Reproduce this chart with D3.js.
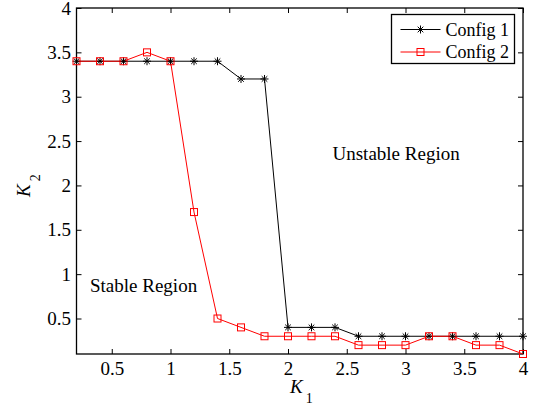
<!DOCTYPE html>
<html>
<head>
<meta charset="utf-8">
<script src="https://cdn.jsdelivr.net/npm/d3@7"></script>
<style>
  body { margin: 0; background: #fff; }
  svg text { font-family: "Liberation Serif", "Times New Roman", serif; }
</style>
</head>
<body>
<svg id="chart" width="533" height="408"></svg>
<script>
// data
var k1 = [0.2, 0.4, 0.6, 0.8, 1.0, 1.2, 1.4, 1.6, 1.8, 2.0, 2.2, 2.4, 2.6, 2.8, 3.0, 3.2, 3.4, 3.6, 3.8, 4.0];
var config1 = [3.4, 3.4, 3.4, 3.4, 3.4, 3.4, 3.4, 3.2, 3.2, 0.4, 0.4, 0.4, 0.3, 0.3, 0.3, 0.3, 0.3, 0.3, 0.3, 0.3];
var config2 = [3.4, 3.4, 3.4, 3.5, 3.4, 1.7, 0.5, 0.4, 0.3, 0.3, 0.3, 0.3, 0.2, 0.2, 0.2, 0.3, 0.3, 0.2, 0.2, 0.1];
var xTicks = [0.5, 1, 1.5, 2, 2.5, 3, 3.5, 4];
var yTicks = [0.5, 1, 1.5, 2, 2.5, 3, 3.5, 4];
var seriesNames = ["Config 1", "Config 2"];

var margin = {top: 8, right: 10, bottom: 54, left: 76.5},
    width = 533 - margin.left - margin.right,
    height = 408 - margin.top - margin.bottom;

var xScale = d3.scaleLinear().domain([0.2, 4]).range([0, width]);
var yScale = d3.scaleLinear().domain([0.1, 4]).range([height, 0]);

var svg = d3.select("#chart");
var g = svg.append("g").attr("transform", "translate(" + margin.left + "," + margin.top + ")");

// axes with inward ticks on all four sides
var tickFmt = d3.format("");
g.append("g").attr("class", "ax")
  .attr("transform", "translate(0," + height + ")")
  .call(d3.axisBottom(xScale).tickValues(xTicks).tickSize(-5).tickPadding(7.5).tickFormat(tickFmt));
g.append("g").attr("class", "ax")
  .call(d3.axisTop(xScale).tickValues(xTicks).tickSize(-5).tickFormat(""));
g.append("g").attr("class", "ax")
  .call(d3.axisLeft(yScale).tickValues(yTicks).tickSize(-5).tickPadding(5.5).tickFormat(tickFmt));
g.append("g").attr("class", "ax")
  .attr("transform", "translate(" + width + ",0)")
  .call(d3.axisRight(yScale).tickValues(yTicks).tickSize(-5).tickFormat(""));

g.selectAll(".ax line").attr("stroke", "#000");
g.selectAll(".ax text").style("font-size", "19px").attr("fill", "#000");
g.selectAll(".ax .domain").remove();
g.append("rect").attr("width", width).attr("height", height)
  .attr("fill", "none").attr("stroke", "#000").attr("stroke-width", 1.3);

// lines
var line = d3.line().x(function(d) { return xScale(d[0]); }).y(function(d) { return yScale(d[1]); });
var pts1 = k1.map(function(k, i) { return [k, config1[i]]; });
var pts2 = k1.map(function(k, i) { return [k, config2[i]]; });

g.append("path").datum(pts1).attr("d", line).attr("fill", "none").attr("stroke", "#000").attr("stroke-width", 1);
g.append("path").datum(pts2).attr("d", line).attr("fill", "none").attr("stroke", "#ff0000").attr("stroke-width", 1);

function asterisk(sel, s) {
  sel.append("path")
    .attr("d", "M0,-" + s + "V" + s + "M-" + s + ",0H" + s +
      "M-" + s * 0.7 + ",-" + s * 0.7 + "L" + s * 0.7 + "," + s * 0.7 +
      "M-" + s * 0.7 + "," + s * 0.7 + "L" + s * 0.7 + ",-" + s * 0.7)
    .attr("stroke", "#000").attr("stroke-width", 1).attr("fill", "none");
}
function square(sel, s) {
  sel.append("rect").attr("x", -s).attr("y", -s).attr("width", 2 * s).attr("height", 2 * s)
    .attr("fill", "none").attr("stroke", "#ff0000").attr("stroke-width", 1);
}

g.selectAll(".m1").data(pts1).enter().append("g").attr("class", "m1")
  .attr("transform", function(d) { return "translate(" + xScale(d[0]) + "," + yScale(d[1]) + ")"; })
  .each(function() { asterisk(d3.select(this), 4); });
g.selectAll(".m2").data(pts2).enter().append("g").attr("class", "m2")
  .attr("transform", function(d) { return "translate(" + xScale(d[0]) + "," + yScale(d[1]) + ")"; })
  .each(function() { square(d3.select(this), 3.5); });

// region labels
g.append("text").attr("x", 332.5 - margin.left).attr("y", 159.5 - margin.top).text("Unstable Region")
  .style("font-size", "19px").attr("fill", "#000");
g.append("text").attr("x", 90 - margin.left).attr("y", 292 - margin.top).text("Stable Region")
  .style("font-size", "19px").attr("fill", "#000");

// axis labels
var xl = svg.append("text").attr("x", 290).attr("y", 393).style("font-size", "19px");
xl.append("tspan").style("font-style", "italic").text("K");
xl.append("tspan").attr("dx", 3).attr("dy", 10).style("font-size", "14px").text("1");

var yl = svg.append("text").attr("transform", "translate(30,197) rotate(-90)").style("font-size", "19px");
yl.append("tspan").style("font-style", "italic").text("K");
yl.append("tspan").attr("dx", 3).attr("dy", 10).style("font-size", "14px").text("2");

// legend
var lg = svg.append("g").attr("transform", "translate(391.5,14.5)");
lg.append("rect").attr("width", 123).attr("height", 49).attr("fill", "#fff")
  .attr("stroke", "#000").attr("stroke-width", 1.3);
seriesNames.forEach(function(name, i) {
  var row = lg.append("g").attr("transform", "translate(0," + (15 + i * 22.5) + ")");
  row.append("line").attr("x1", 9).attr("x2", 49).attr("y1", 0).attr("y2", 0)
    .attr("stroke", i === 0 ? "#000" : "#ff0000").attr("stroke-width", 1);
  var m = row.append("g").attr("transform", "translate(29,0)");
  if (i === 0) asterisk(m, 4); else square(m, 3.5);
  row.append("text").attr("x", 54).attr("y", 6).text(name).style("font-size", "18px").attr("fill", "#000");
});
</script>
</body>
</html>
